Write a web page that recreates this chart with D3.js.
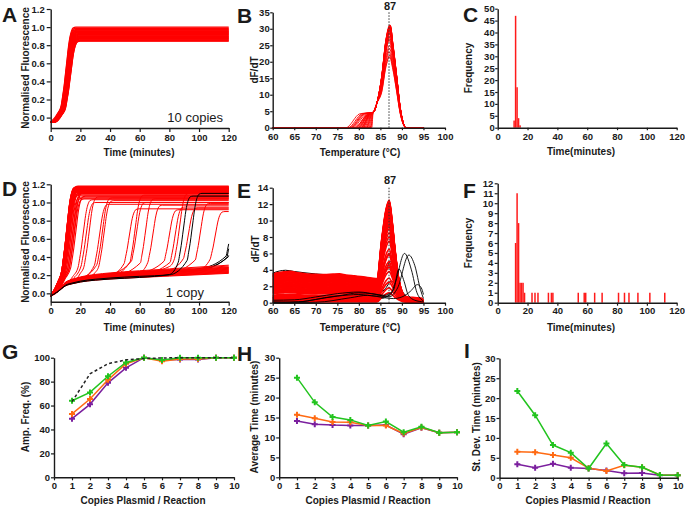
<!DOCTYPE html>
<html><head><meta charset="utf-8">
<script src="https://cdn.jsdelivr.net/npm/d3@7"></script>
<style>body{margin:0;background:#fff}svg{display:block}</style>
</head><body>
<svg id="c" width="685" height="508"></svg>
<script>
// ---------------- DATA ----------------
// Panel A (10 copies): amplification curves – shared rise shape + per-curve midpoint / plateau
const riseRel  = [-16, -10, -5, -3, -2, -1, 0, 1, 2, 3, 4, 5, 7];
const riseFrac = [0, 0, 0.1, 0.17, 0.27, 0.38, 0.52, 0.66, 0.8, 0.9, 0.96, 0.99, 1];
const platA = [1.0,0.99,0.985,0.975,0.97,0.965,0.96,0.955,0.95,0.945,0.94,0.935,0.93,0.925,0.92,0.915,0.91,0.905,0.9,0.895,0.89,0.885,0.88,0.875,0.87,0.865,0.86,0.853,0.848,0.843];
const midA  = [10.0,10.3,10.1,10.6,10.4,10.9,10.7,11.0,11.3,11.1,11.5,11.2,11.7,11.4,11.9,11.6,12.0,11.8,12.2,12.0,12.4,12.1,12.5,12.3,12.6,12.4,12.8,12.6,13.0,12.9];
const startA = -0.05;

// Panel B: melt curves (shoulder start, peak height, peak temperature)
const shB = [77,77.5,78,78.5,79,79.3,79.6,80,80.3,80.6,81,81.3,81.6,82,82.3,82.6,83,78.2,79.8,80.8,81.8,82.8,77.8,79,80.5];
const hB  = [30.5,31,30,29.5,30.8,29,28.5,30.2,31.2,27.5,29.8,30.6,26.5,24,22,23,28,29.2,30.4,21.5,25,30,27,28.8,31];
const cB  = [87.2,87.3,87.1,87.2,87.3,87.0,87.2,87.4,87.2,87.1,87.3,87.2,87.0,87.1,87.2,87.0,87.3,87.2,87.4,87.1,87.2,87.3,87.1,87.2,87.3];
const meltPeakB = 87;

// Panel C: histogram
const binsC   = [11, 12, 13, 14, 15];
const countsC = [3, 47, 17, 4, 1];

// Panel D (1 copy): baseline shape, early & late amplifiers
const baseT     = [0, 5, 10, 15, 20, 30, 40, 60, 80, 100, 120];
const baseShape = [0, 0.2, 0.45, 0.55, 0.62, 0.7, 0.75, 0.82, 0.88, 0.94, 1];
const startD = -0.03;
const earlyTD  = [12,12,12,12,12,12,13,13,13,13,13,13,13,13,13,13,13,14,14,14,14,14,14,14,14,15,15,16,16,17,17,18];
const platEarly= [1.17,1.16,1.15,1.17,1.14,1.16,1.18,1.15,1.13,1.17,1.12,1.16,1.14,1.11,1.15,1.13,1.17,1.1,1.14,1.12,1.16,1.09,1.13,1.15,1.08,1.12,1.06,1.1,1.05,1.11,1.04,1.07];
const lateTD   = [23,25,27,34,36,37,54,58,59,65,70,81,85,88,94,102,112];
const platLate = [1.03,1.0,1.06,0.98,1.05,1.02,0.93,1.08,1.0,1.04,0.97,0.92,0.95,1.1,0.94,0.99,0.9];
const baseLate = [0.25,0.27,0.24,0.26,0.28,0.23,0.27,0.25,0.29,0.24,0.26,0.28,0.25,0.27,0.3,0.26,0.28];
const nonAmpD  = [0.22,0.225,0.23,0.235,0.24,0.245,0.25,0.255,0.26,0.265,0.27,0.275,0.28,0.285,0.29,0.3,0.31];
const blackMidD  = [89, 95];          // black curves drawn above
const blackPlatD = [1.07, 1.1];
const blackBaseD = [0.22, 0.235];
const blackEndMidD  = [121.2, 121.7, 122.8];   // black curves just starting at the end, drawn below
const blackEndBaseD = [0.29, 0.27, 0.28];

// Panel E: melt curves, 1 copy (baseline level, peak height, tail level)
const tE     = [60, 61, 62.5, 64, 66, 68, 70, 72, 74, 75.5, 77, 79, 81, 83, 84.2];
const shapeE = [0.93, 0.97, 1.0, 1.02, 0.97, 0.93, 0.92, 0.91, 0.93, 0.94, 0.9, 0.87, 0.84, 0.8, 0.78];
const riseTE = [85.3, 86.3, 87.05];  const riseWE = [0.5, 0.88, 1];
const fallTE = [87.7, 88.4, 89.2, 90.0, 90.7]; const fallWE = [0.8, 0.5, 0.22, 0.07, 0.01];
const bE = [3.75,3.65,3.6,3.5,3.45,3.4,3.3,3.2,3.1,3.0,2.9,2.8,2.7,2.6,2.5,2.4,2.3,2.2,2.1,2.0,1.9,1.8,1.7,1.6,1.5,1.4,1.3,1.2,1.0,0.9,0.8,0.7,0.6,0.5,0.4,0.3,0.2,0.1];
const hE = [12.5,12.4,12.2,11.8,12.3,12.0,11.5,11.2,12.3,10.8,11.6,10.5,11.9,10.2,11.0,9.8,10.6,9.5,12.1,9.0,10.0,8.5,11.3,8.0,9.3,7.5,6.5,10.8,5.8,5.0,4.6,6.0,3.8,4.3,3.0,2.5,1.8,1.2];
const tailE = [0.5,0.3,0.2,0.6,0.4,0.3,0.5,0.3,0.4,0.7,0.2,0.3,0.5,0.2,0.3,0.4,0.2,0.6,0.3,0.2,0.4,0.3,0.2,0.5,0.3,0.2,0.3,0.1,0.2,0.3,0.1,0.2,0.3,0.1,0.2,0.1,0.1,0.1];
const blackEUnder = [
 [[60,3.6],[61.5,3.85],[63,3.95],[65,3.8],[70,3.5],[75,3.3],[80,3.0],[84,2.8],[86,3.5],[87.3,5.0],[88.5,4.0],[90,1.5],[92,0.5],[95,0.2]],
 [[60,2.0],[63,2.05],[66,1.9],[70,1.85],[75,1.7],[80,1.4],[84,1.1],[86,1.6],[87.5,2.6],[89,2.0],[90.5,0.8],[92,0.3],[95,0.1]],
 [[60,0.6],[65,0.6],[70,0.5],[75,0.45],[80,0.5],[85,0.5],[87,0.9],[88,1.3],[89.5,1.0],[91,0.5],[95,0.1]]
];
const blackE = [
 [[60,0.1],[64,0.05],[68,0.2],[72,0.6],[76,0.9],[80,1.2],[83,1.1],[86,0.9],[88,1.5],[89.3,4.1],[90.5,2.6],[91.5,0.9],[93,0.3],[95,0.1]],
 [[60,0.05],[66,0.1],[70,0.4],[75,0.8],[80,1.0],[84,0.8],[87,0.8],[88.5,2.5],[90.6,6.0],[92.2,4.0],[93.5,1.2],[94.5,0.4],[95,0.2]],
 [[60,0.3],[65,0.35],[70,0.7],[75,1.1],[80,1.3],[84,1.0],[87,0.7],[89,1.8],[91.6,5.8],[93,4.5],[94.3,1.6],[95,0.5]],
 [[60,0.0],[70,0.05],[78,0.6],[82,0.9],[86,0.6],[88,0.5],[90,0.7],[92,1.4],[93.6,2.2],[94.5,1.8],[95,1.0]]
];
const meltPeakE = 87;

// Panel F: histogram
const binsF   = [12,13,14,15,16,17,18,23,25,27,34,36,37,54,58,59,65,70,81,85,88,94,102,112];
const countsF = [6,11,8,2,2,2,1,1,1,1,1,1,1,1,1,1,1,1,1,1,1,1,1,1];

// Panels G, H, I
const copies = [1,2,3,4,5,6,7,8,9,10];
const ampGreen  = [64,71,84.5,96,100,98,100,100,100,100];
const ampOrange = [53,65.5,81.5,95,100,97,99,99,100,100];
const ampPurple = [49,61,79,91.5,100,98,98.5,98.5,100,100];
const ampPoisson= [63.2,86.5,95,98.2,99.3,99.8,100,100,100,100];
const avgGreen  = [25,18.8,15.1,14.4,13,14,11.3,12.7,11.2,11.3];
const avgOrange = [15.7,14.8,13.9,13.8,13,13,11,12.5,11.2,11.3];
const avgPurple = [14.1,13.3,13.1,13,13,13.1,10.8,12.4,11.2,11.3];
const sdGreen   = [21.8,15.7,8.2,6.3,2.3,8.6,3.2,2.6,0.7,0.6];
const sdOrange  = [6.5,6.4,5.7,5.0,2.4,1.7,3.1,2.6,0.7,0.6];
const sdPurple  = [3.4,2.5,3.5,2.5,2.3,1.8,1.1,1.2,0.6,0.6];

// tick labels
const ticksTime = [0,20,40,60,80,100,120];
const ticksTemp = [60,65,70,75,80,85,90,95,100];
const ticksFluor= [0,0.2,0.4,0.6,0.8,1.0,1.2];
const ticksB = [0,5,10,15,20,25,30,35];
const ticksC = [0,5,10,15,20,25,30,35,40,45,50];
const ticksE = [0,2,4,6,8,10,12,14];
const ticksF = [0,1,2,3,4,5,6,7,8,9,10,11,12];
const ticksCopies = [0,1,2,3,4,5,6,7,8,9,10];
const ticksG = [0,20,40,60,80,100];
const ticksHI = [0,5,10,15,20,25,30];

// ---------------- DRAW ----------------
const svg = d3.select('#c');
const FONT = '"Liberation Sans", Arial, Helvetica, sans-serif';
const RED = '#ff0000', AX = '#1a1a1a';
const GREEN = '#22c41e', ORANGE = '#ff6a12', PURPLE = '#7b1f9e';
const line = (x, y) => d3.line().x(d => x(d[0])).y(d => y(d[1])).curve(d3.curveMonotoneX);
const riseG = d3.scaleLinear().domain(riseRel).range(riseFrac).clamp(true);
const baseG = d3.scaleLinear().domain(baseT).range(baseShape).clamp(true);

function frame(o) {
  return {o, x: d3.scaleLinear().domain(o.xd).range([o.x0, o.x1]),
             y: d3.scaleLinear().domain(o.yd).range([o.yb, o.yt])};
}
function axes(f, xt, yt, yf, ts, tp, xp) {
  const {x, y, o} = f;
  ts = ts == null ? 4 : ts; tp = tp == null ? 2 : tp; xp = xp == null ? 2 : xp;
  const gx = svg.append('g').attr('transform', `translate(0,${o.yb})`)
    .call(d3.axisBottom(x).tickValues(xt).tickFormat(d3.format('d')).tickSize(ts).tickPadding(xp).tickSizeOuter(0));
  const gy = svg.append('g').attr('transform', `translate(${o.x0},0)`)
    .call(d3.axisLeft(y).tickValues(yt).tickFormat(yf || d3.format('d')).tickSize(ts).tickPadding(tp).tickSizeOuter(0));
  [gx, gy].forEach(g => {
    g.select('.domain').attr('stroke', AX).attr('stroke-width', 1.4);
    g.selectAll('.tick line').attr('stroke', AX).attr('stroke-width', 1.2);
    g.selectAll('.tick text').attr('fill', AX).style('font-family', FONT).style('font-size', '9.5px').style('font-weight', 'bold');
  });
}
function text(x, y, s, opt = {}) {
  const t = svg.append('text').attr('x', x).attr('y', y).text(s)
    .style('font-family', FONT).style('font-size', (opt.size || 10) + 'px')
    .style('font-weight', opt.weight || 'bold').attr('fill', opt.fill || AX)
    .attr('text-anchor', opt.anchor || 'middle');
  if (opt.rot) t.attr('transform', `rotate(-90,${x},${y})`).attr('dominant-baseline', 'central');
  return t;
}

// ---- A ----
{
  const f = frame({x0: 50.7, x1: 228.7, yb: 128, yt: 9, xd: [0, 120], yd: [-0.115, 1.2]});
  const L = line(f.x, f.y);
  platA.forEach((p, i) => {
    const m = midA[i];
    const pts = [[0, startA]];
    riseRel.forEach(r => { const t = m + r; if (t > 0 && t < 120) pts.push([t, startA + (p - startA) * riseG(r)]); });
    pts.push([120, p]);
    svg.append('path').attr('d', L(pts)).attr('fill', 'none').attr('stroke', RED).attr('stroke-width', 1.1);
  });
  axes(f, ticksTime, ticksFluor, d3.format('.1f'), 4, 2);
  text(139, 156, 'Time (minutes)');
  text(25.5, 68, 'Normalised Fluorescence', {rot: true});
  text(223, 122, '10 copies', {size: 13, weight: 'normal', anchor: 'end'});
  text(2, 22, 'A', {size: 21, anchor: 'start'});
}

// ---- B ----
{
  const f = frame({x0: 272.7, x1: 445, yb: 127.7, yt: 12.3, xd: [60, 100], yd: [0, 35]});
  const L = line(f.x, f.y);
  shB.forEach((s, i) => {
    const h = hB[i], c = cB[i];
    const k = Math.min(3.2, (83.4 - s) * 0.7);
    const pts = [[60, 0], [s, 0], [s + k, 4.2], [83.4, 4.7], [84.2, 7.5], [85.3, 0.5 * h], [86.3, 0.86 * h], [c, h],
                 [87.9, 0.82 * h], [88.8, 0.5 * h], [89.6, 0.2 * h], [90.3, 0.05 * h], [90.9, 0], [95, 0]];
    svg.append('path').attr('d', L(pts)).attr('fill', 'none').attr('stroke', RED).attr('stroke-width', 0.9);
  });
  svg.append('line').attr('x1', f.x(meltPeakB)).attr('x2', f.x(meltPeakB)).attr('y1', f.y(35)).attr('y2', f.y(0))
    .attr('stroke', '#333').attr('stroke-width', 1).attr('stroke-dasharray', '1.5,1.5');
  axes(f, ticksTemp, ticksB, null, 2.5, 0.5, 2.8);
  text(f.x(meltPeakB) + 1, 10, String(meltPeakB), {size: 11});
  text(360, 156, 'Temperature (°C)');
  text(254, 70, 'dF/dT', {rot: true});
  text(237, 23, 'B', {size: 21, anchor: 'start'});
}

// ---- C ----
{
  const f = frame({x0: 497.7, x1: 676.7, yb: 127.7, yt: 8.7, xd: [0, 120], yd: [0, 50]});
  binsC.forEach((b, i) => {
    svg.append('rect').attr('x', f.x(b - 0.5)).attr('width', f.x(b + 0.5) - f.x(b - 0.5))
      .attr('y', f.y(countsC[i])).attr('height', f.y(0) - f.y(countsC[i])).attr('fill', '#ff1a1a');
  });
  axes(f, ticksTime, ticksC, null, 2.5, 0.5, 2.8);
  text(581, 155, 'Time(minutes)');
  text(468.5, 68, 'Frequency', {rot: true});
  text(463, 22, 'C', {size: 21, anchor: 'start'});
}

// ---- D ----
{
  const f = frame({x0: 50.7, x1: 228.7, yb: 301.7, yt: 184.3, xd: [0, 120], yd: [-0.092, 1.2]});
  const L = line(f.x, f.y);
  const base = (t, e) => startD + (e - startD) * baseG(t);
  function ampCurve(m, p, e) {
    const ts = new Set(baseT.filter(t => t < m - 4));
    riseRel.forEach(r => { const t = m + r; if (t >= m - 4 && t > 0 && t < 120) ts.add(t); });
    ts.add(120);
    return Array.from(ts).sort((a, b) => a - b).map(t => [t, base(t, e) + (p - base(t, e)) * riseG(t - m)]);
  }
  const draw = (pts, col, w) => svg.append('path').attr('d', L(pts)).attr('fill', 'none').attr('stroke', col).attr('stroke-width', w);
  blackEndMidD.forEach((m, i) => draw(ampCurve(m, 1.0, blackEndBaseD[i]), '#000', 1));
  nonAmpD.forEach(e => draw(baseT.map(t => [t, base(t, e)]), RED, 1));
  earlyTD.forEach((T, i) => draw(ampCurve(T - 1.5, platEarly[i], 0.26), RED, 1.1));
  lateTD.forEach((T, i) => draw(ampCurve(T - 1.5, platLate[i], baseLate[i]), RED, 1));
  blackMidD.forEach((m, i) => draw(ampCurve(m, blackPlatD[i], blackBaseD[i]), '#000', 1));
  axes(f, ticksTime, ticksFluor, d3.format('.1f'), 4, 1.5);
  text(139, 331, 'Time (minutes)');
  text(25.5, 242, 'Normalised Fluorescence', {rot: true});
  text(204, 297, '1 copy', {size: 13, weight: 'normal', anchor: 'end'});
  text(2, 196, 'D', {size: 21, anchor: 'start'});
}

// ---- E ----
{
  const f = frame({x0: 272.7, x1: 445, yb: 302.7, yt: 187.7, xd: [60, 100], yd: [0, 14]});
  const L = line(f.x, f.y);
  const draw = (pts, col, w) => svg.append('path').attr('d', L(pts)).attr('fill', 'none').attr('stroke', col).attr('stroke-width', w);
  blackEUnder.forEach(c => draw(c, '#000', 1));
  bE.forEach((b, i) => {
    const h = hE[i], tl = tailE[i];
    const pts = tE.map((t, j) => [t, b * shapeE[j]]);
    const b84 = b * shapeE[shapeE.length - 1];
    riseTE.forEach((t, j) => pts.push([t, b84 + (h - b84) * riseWE[j]]));
    fallTE.forEach((t, j) => pts.push([t, tl + (h - tl) * fallWE[j]]));
    pts.push([91.5, tl], [93, tl * 0.9], [94.5, tl * 0.8], [95, tl * 0.4]);
    draw(pts, RED, 1.6);
  });
  blackE.forEach(c => draw(c, '#000', 0.9));
  svg.append('line').attr('x1', f.x(meltPeakE)).attr('x2', f.x(meltPeakE)).attr('y1', f.y(14)).attr('y2', f.y(0))
    .attr('stroke', '#333').attr('stroke-width', 1).attr('stroke-dasharray', '1.5,1.5');
  axes(f, ticksTemp, ticksE, null, 3, 1.4);
  text(f.x(meltPeakE) + 1, 184, String(meltPeakE), {size: 11});
  text(360, 331, 'Temperature (°C)');
  text(255, 249, 'dF/dT', {rot: true});
  text(237, 198, 'E', {size: 21, anchor: 'start'});
}

// ---- F ----
{
  const f = frame({x0: 497.7, x1: 676.7, yb: 302.7, yt: 183.3, xd: [0, 120], yd: [0, 12]});
  binsF.forEach((b, i) => {
    svg.append('rect').attr('x', f.x(b - 0.5)).attr('width', f.x(b + 0.5) - f.x(b - 0.5))
      .attr('y', f.y(countsF[i])).attr('height', f.y(0) - f.y(countsF[i])).attr('fill', '#ff1a1a');
  });
  axes(f, ticksTime, ticksF, null, 3, 1.4);
  text(581, 331, 'Time(minutes)');
  text(468.5, 243, 'Frequency', {rot: true});
  text(463, 198, 'F', {size: 21, anchor: 'start'});
}

// ---- G, H, I ----
function lineChart(o, series, ticksY, ylab, ylx, xlx, letter, lp) {
  const f = frame(o);
  const L = d3.line().x((d, i) => f.x(copies[i])).y(d => f.y(d));
  series.forEach(s => {
    svg.append('path').attr('d', L(s.v)).attr('fill', 'none').attr('stroke', s.c).attr('stroke-width', 1.5)
      .attr('stroke-dasharray', s.dash || null);
    if (!s.dash) s.v.forEach((v, i) => svg.append('path').attr('d', d3.symbol().type(d3.symbolCross).size(20)())
      .attr('transform', `translate(${f.x(copies[i])},${f.y(v)})`).attr('fill', s.c));
  });
  axes(f, ticksCopies, ticksY, null, 3, 1);
  text(xlx, 504, 'Copies Plasmid / Reaction');
  text(ylx, 417, ylab, {rot: true});
  text(lp[0], lp[1], letter, {size: 21, anchor: 'start'});
}
lineChart({x0: 54, x1: 234, yb: 477.3, yt: 357.7, xd: [0, 10], yd: [0, 100]},
  [{v: ampPurple, c: PURPLE}, {v: ampOrange, c: ORANGE}, {v: ampGreen, c: GREEN}, {v: ampPoisson, c: '#222', dash: '3,2.5'}],
  ticksG, 'Amp. Freq. (%)', 25.5, 143, 'G', [2, 359]);
lineChart({x0: 279.2, x1: 457, yb: 477.3, yt: 357.7, xd: [0, 10], yd: [0, 30]},
  [{v: avgPurple, c: PURPLE}, {v: avgOrange, c: ORANGE}, {v: avgGreen, c: GREEN}],
  ticksHI, 'Average Time (minutes)', 254.7, 368, 'H', [237, 361]);
lineChart({x0: 499.5, x1: 677.7, yb: 477.7, yt: 358.3, xd: [0, 10], yd: [0, 30]},
  [{v: sdPurple, c: PURPLE}, {v: sdOrange, c: ORANGE}, {v: sdGreen, c: GREEN}],
  ticksHI, 'St. Dev. Time (minutes)', 476, 588, 'I', [464, 358]);
</script>
</body></html>
